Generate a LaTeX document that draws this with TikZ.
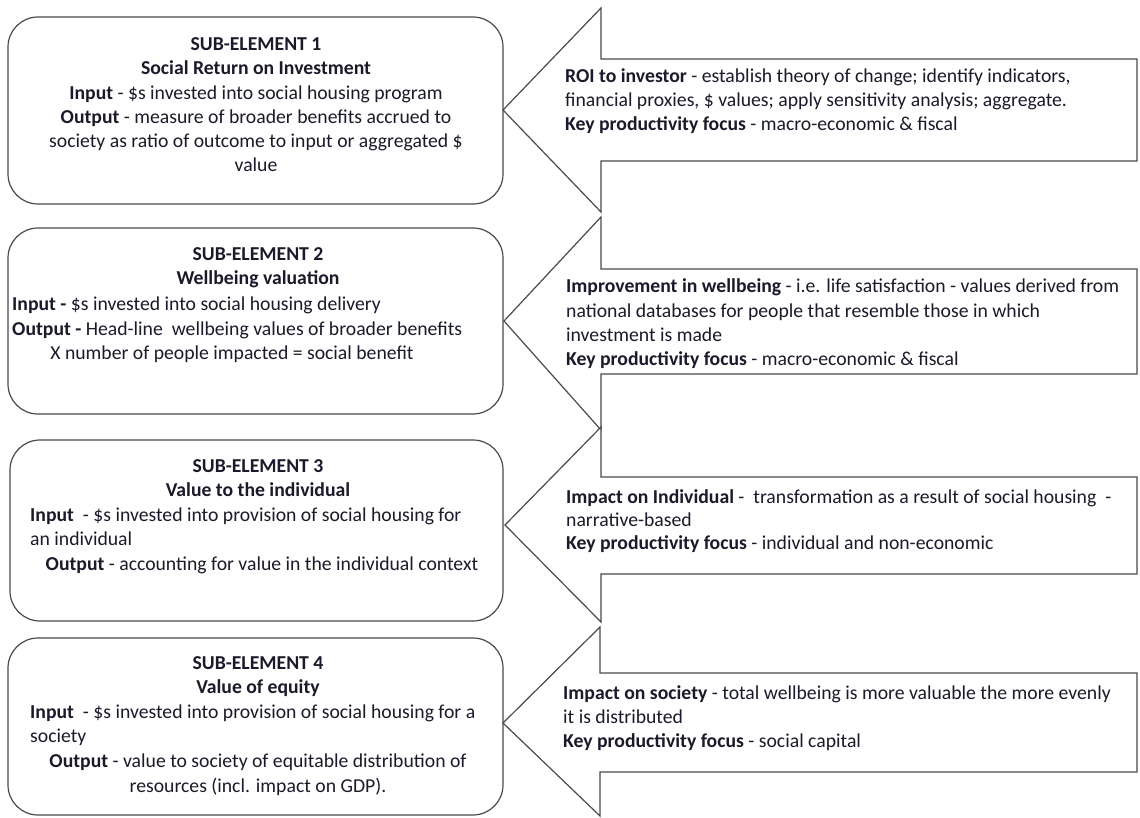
\documentclass[tikz,border=0pt]{standalone}
\usepackage{fontspec}
\setmainfont{Carlito}
\definecolor{edge}{HTML}{4A4A4A}
\definecolor{ink}{HTML}{1A1A2A}
\tikzset{
  subbox/.style={draw=edge, line width=1.2pt, rounded corners=30pt, fill=white},
  arrowshape/.style={draw=edge, line width=1.2pt, fill=white, line join=miter},
  txt/.style={inner sep=0pt, text=ink, font=\fontsize{19.7}{24}\selectfont}
}
\newcommand\Lc[4]{\node[txt,anchor=base] (#1) at (#2,#3) {#4};}
\newcommand\Ll[4]{\node[txt,anchor=base west] (#1) at (#2,#3) {#4};}
\begin{document}
\begin{tikzpicture}[x=1pt,y=-1pt]
\useasboundingbox (0,0) rectangle (1140,818);
% boxes
\draw[subbox] (8,17) rectangle (503,204);
\draw[subbox] (8,228) rectangle (503,414);
\draw[subbox] (10,440) rectangle (503,621);
\draw[subbox] (8,638) rectangle (503,815);
% arrows
\draw[arrowshape] (503,110) -- (601,8) -- (601,59) -- (1137,59) -- (1137,161) -- (601,161) -- (601,212) -- cycle;
\draw[arrowshape] (504,321) -- (601,217) -- (601,269) -- (1137,269) -- (1137,374) -- (601,374) -- (601,430) -- cycle;
\draw[arrowshape] (505,525) -- (601,427) -- (601,477) -- (1137,477) -- (1137,574) -- (601,574) -- (601,622) -- cycle;
\draw[arrowshape] (503,723) -- (600,627) -- (600,673) -- (1137,673) -- (1137,772) -- (600,772) -- (600,816) -- cycle;
% box 1 text
\Lc{t1a}{256}{51}{\textbf{SUB-ELEMENT 1}}
\Lc{t1b}{256}{75}{\textbf{Social Return on Investment}}
\Lc{t1c}{256}{100}{\textbf{Input} - \$s invested into social housing program}
\Lc{t1d}{256}{124}{\textbf{Output} - measure of broader benefits accrued to}
\Lc{t1e}{256}{148}{society as ratio of outcome to input or aggregated \$}
\Lc{t1f}{256}{172}{value}
% box 2 text
\Lc{t2a}{258}{261}{\textbf{SUB-ELEMENT 2}}
\Lc{t2b}{258}{285}{\textbf{Wellbeing valuation}}
\Ll{t2c}{12}{310}{\textbf{Input -} \$s invested into social housing delivery}
\Ll{t2d}{12}{335}{\textbf{Output -} Head-line\ \ wellbeing values of broader benefits}
\Lc{t2e}{232}{359}{X number of people impacted = social benefit}
% box 3 text
\Lc{t3a}{258}{472}{\textbf{SUB-ELEMENT 3}}
\Lc{t3b}{258}{496}{\textbf{Value to the individual}}
\Ll{t3c}{30}{521}{\textbf{Input}\ \ - \$s invested into provision of social housing for}
\Ll{t3d}{30}{545}{an individual}
\Lc{t3e}{262}{570}{\textbf{Output} - accounting for value in the individual context}
% box 4 text
\Lc{t4a}{258}{669}{\textbf{SUB-ELEMENT 4}}
\Lc{t4b}{258}{693}{\textbf{Value of equity}}
\Ll{t4c}{30}{718}{\textbf{Input}\ \ - \$s invested into provision of social housing for a}
\Ll{t4d}{30}{742}{society}
\Lc{t4e}{258}{767}{\textbf{Output} - value to society of equitable distribution of}
\Lc{t4f}{258}{792}{resources (incl. impact on GDP).}
% arrow texts
\Ll{a1a}{565}{83}{\textbf{ROI to investor} - establish theory of change; identify indicators,}
\Ll{a1b}{565}{107}{financial proxies, \$ values; apply sensitivity analysis; aggregate.}
\Ll{a1c}{565}{131}{\textbf{Key productivity focus} - macro-economic \& fiscal}
\Ll{a2a}{566}{293}{\textbf{Improvement in wellbeing} - i.e. life satisfaction - values derived from}
\Ll{a2b}{566}{317}{national databases for people that resemble those in which}
\Ll{a2c}{566}{341}{investment is made}
\Ll{a2d}{566}{365}{\textbf{Key productivity focus} - macro-economic \& fiscal}
\Ll{a3a}{566}{503}{\textbf{Impact on Individual} -\ \ transformation as a result of social housing\ \ -}
\Ll{a3b}{566}{526}{narrative-based}
\Ll{a3c}{566}{549}{\textbf{Key productivity focus} - individual and non-economic}
\Ll{a4a}{563}{699}{\textbf{Impact on society} - total wellbeing is more valuable the more evenly}
\Ll{a4b}{563}{723}{it is distributed}
\Ll{a4c}{563}{747}{\textbf{Key productivity focus} - social capital}
\end{tikzpicture}
\end{document}
